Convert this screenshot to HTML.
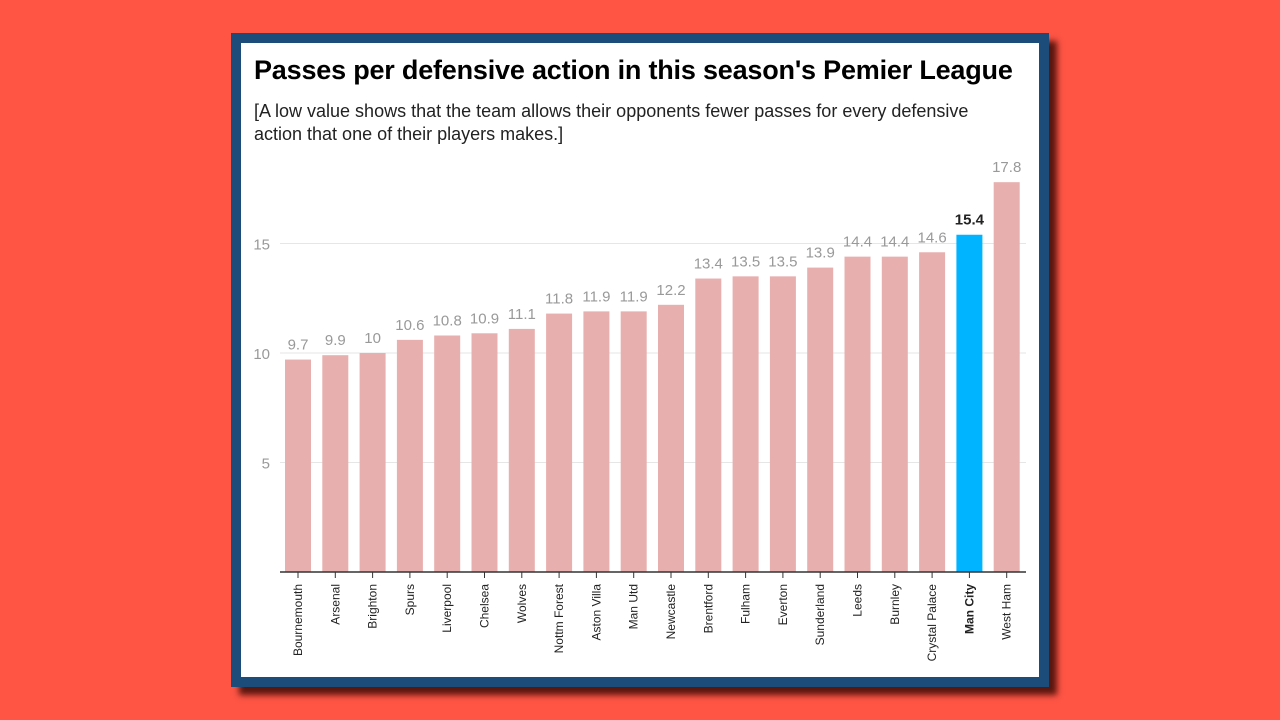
<!DOCTYPE html>
<html><head><meta charset="utf-8"><style>
body{margin:0;width:1280px;height:720px;background:#FF5545;position:relative;overflow:hidden;font-family:"Liberation Sans",sans-serif}
#frame{position:absolute;left:231px;top:33px;width:798px;height:634px;border:10px solid #1B4C7A;background:#fff;box-shadow:8px 8px 6px rgba(60,10,5,0.85)}
#title{position:absolute;left:254px;top:55px;font-size:27px;font-weight:bold;color:#000;white-space:nowrap;letter-spacing:-0.2px}
#sub{position:absolute;left:254px;top:100px;font-size:18px;color:#222;line-height:23px;width:735px}
svg{position:absolute;left:0;top:0}
</style></head><body>
<div id="frame"></div>
<div id="title">Passes per defensive action in this season's Pemier League</div>
<div id="sub">[A low value shows that the team allows their opponents fewer passes for every defensive action that one of their players makes.]</div>
<svg id="chart" width="1280" height="720"></svg>
<script>
const teams=["Bournemouth","Arsenal","Brighton","Spurs","Liverpool","Chelsea","Wolves","Nottm Forest","Aston Villa","Man Utd","Newcastle","Brentford","Fulham","Everton","Sunderland","Leeds","Burnley","Crystal Palace","Man City","West Ham"];
const values=[9.7,9.9,10,10.6,10.8,10.9,11.1,11.8,11.9,11.9,12.2,13.4,13.5,13.5,13.9,14.4,14.4,14.6,15.4,17.8];
const ticks=[5,10,15];
const highlight="Man City";
const svg=document.getElementById('chart');const NS='http://www.w3.org/2000/svg';
const y=v=>572-v*21.9;const x=i=>298+i*37.3;const bw=26;
function mk(t,a,p){const e=document.createElementNS(NS,t);for(const k in a)e.setAttribute(k,a[k]);(p||svg).appendChild(e);return e;}
ticks.forEach(t=>{
const g=mk('line',{x1:280,x2:1026,y1:y(t),y2:y(t),stroke:'#e6e6e6'});


const l=mk('text',{x:270,y:y(t)+6,'text-anchor':'end','font-size':15,fill:'#999'});l.textContent=t;


});
teams.forEach((tm,i)=>{
const hi=tm===highlight;
const r=mk('rect',{x:x(i)-bw/2,y:y(values[i]),width:bw,height:572-y(values[i]),fill:hi?'#00B4FF':'#E8AFAF'});


const v=mk('text',{x:x(i),y:y(values[i])-10,'text-anchor':'middle','font-size':15,'font-weight':hi?'bold':'normal',fill:hi?'#222':'#999'});v.textContent=values[i];


mk('line',{x1:x(i),x2:x(i),y1:572,y2:578,stroke:'#333'});
const t=mk('text',{x:0,y:0,'text-anchor':'end','font-size':12,'font-weight':hi?'bold':'normal',fill:'#222',transform:`translate(${x(i)+4},584) rotate(-90)`});t.textContent=tm;


});
const ax=mk('line',{x1:280,x2:1026,y1:572,y2:572,stroke:'#333','stroke-width':1.5});


</script>
</body></html>
